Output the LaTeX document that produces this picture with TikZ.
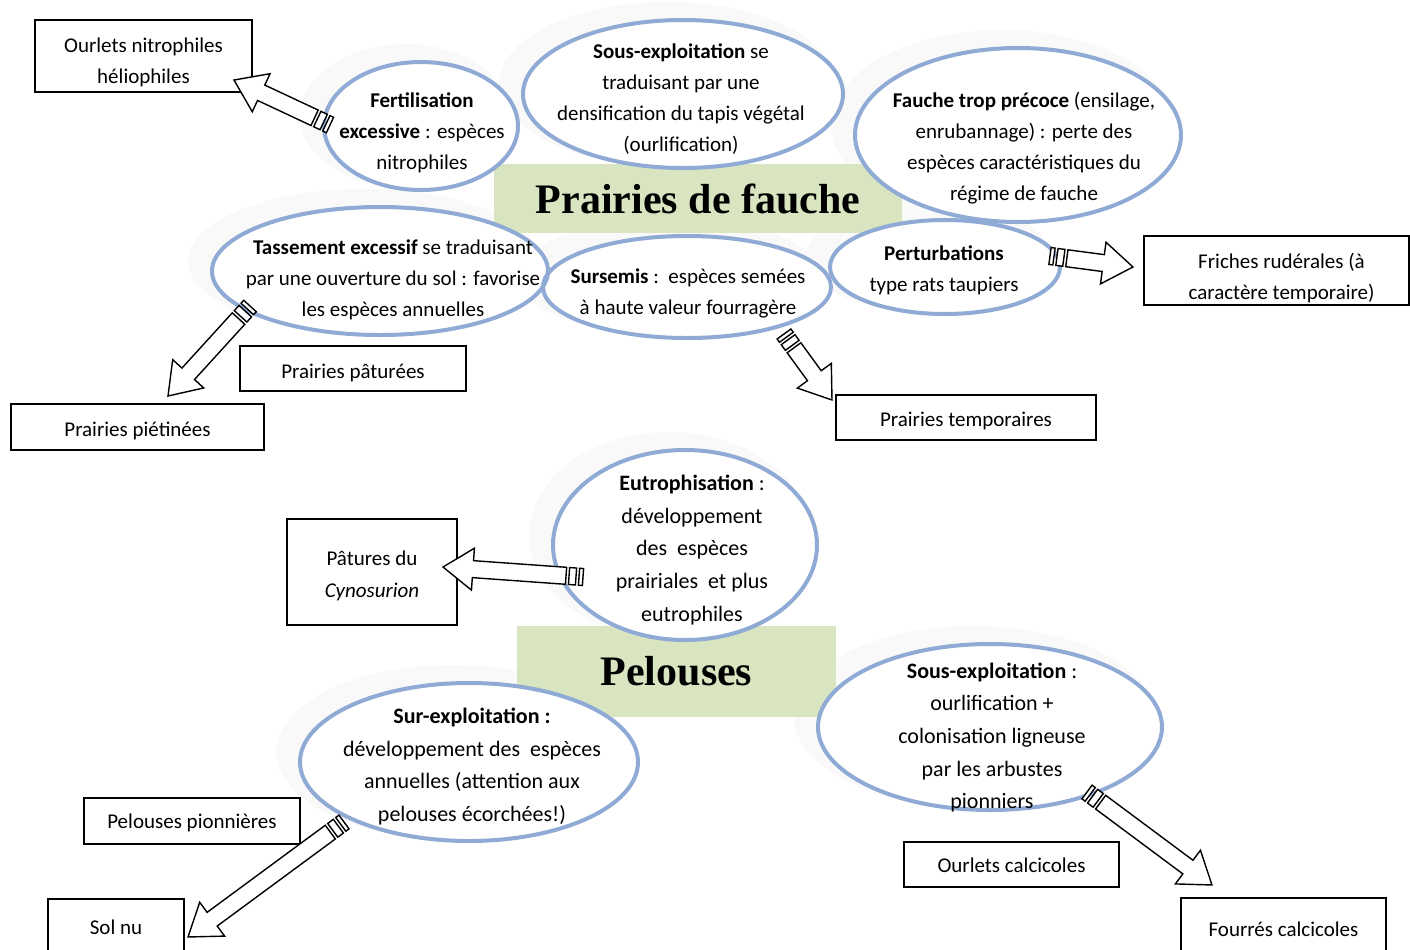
\documentclass[tikz,border=0pt]{standalone}
\usepackage{fontspec}
\setmainfont{Carlito}
\newfontfamily\titlefont{Liberation Serif}
\usetikzlibrary{calc,shapes.geometric}

\definecolor{bubbleblue}{RGB}{143,170,213}
\definecolor{titlegreen}{RGB}{217,229,193}
\definecolor{shadowgray}{RGB}{249,249,249}

\tikzset{
	box/.style={draw, line width=0.8pt, inner sep=0pt},
	boxtext/.style={align=center, inner sep=0pt, font=\fontsize{10.5}{15.5}\selectfont},
	bubble/.style={ellipse, draw=bubbleblue, line width=2pt, inner sep=0pt},
	bubbletext/.style={align=center, inner sep=0pt, font=\fontsize{10.5}{15.5}\selectfont},
	bubbletextb/.style={align=center, inner sep=0pt, font=\fontsize{11}{16.3}\selectfont},
	titlebox/.style={fill=titlegreen, inner sep=0pt, font=\titlefont\bfseries\fontsize{21}{25}\selectfont},
	arrowline/.style={draw=black, fill=white, line width=0.7pt, line join=miter},
}

% striped block arrow from #1 (tail) to #2 (tip)
\newcommand\stripearrow[2]{%
	\path let \p1=($(#2)-(#1)$) in
		\pgfextra{\pgfmathsetmacro\arrang{atan2(\y1,\x1)}\pgfmathsetmacro\arrlen{veclen(\x1,\y1)}%
			\global\let\arrang\arrang\global\let\arrlen\arrlen};
	\begin{scope}[shift={(#1)},rotate=\arrang]
		\draw[arrowline] (0pt,-4.25pt) rectangle (2pt,4.25pt);
		\draw[arrowline] (3.5pt,-4.25pt) rectangle (7pt,4.25pt);
		\draw[arrowline] (8.5pt,-4.25pt) -- ({\arrlen pt-15pt},-4.25pt) -- ({\arrlen pt-15pt},-10.5pt) -- (\arrlen pt,0pt) -- ({\arrlen pt-15pt},10.5pt) -- ({\arrlen pt-15pt},4.25pt) -- (8.5pt,4.25pt) -- cycle;
	\end{scope}}

\begin{document}
\begin{tikzpicture}[x=0.5pt,y=-0.5pt]
	\useasboundingbox (0,0) rectangle (1410,949);

	%Shape: Ellipse shadows
	\foreach \nm/\cx/\cy/\rx/\ry in {fert/421/126/97/64, sousexp/683/94/160/74, fauche/1018/135/163/87, tass/380/271/168/64, sursemis/687/287/144/51, perturb/945/267/115/47, eutro/685/545/132/95, surexp/469/762/169/79, sousexpb/990/727/172/83}
		\fill[shadowgray] (\cx-16,\cy-10) ellipse [x radius={\rx*0.5pt+4pt}, y radius={\ry*0.5pt+4pt}];

	%Shape: Rectangle (titles)
	\node[titlebox, minimum width=204pt, minimum height=34.5pt] (fauchetitle) at (698,198.5) {Prairies de fauche};
	\node[titlebox, minimum width=159.5pt, minimum height=45.5pt] (pelousestitle) at (676.5,671.5) {Pelouses};

	%Shape: Ellipse
	\foreach \nm/\cx/\cy/\rx/\ry in {fert/421/126/97/64, sousexp/683/94/160/74, fauche/1018/135/163/87, tass/380/271/168/64, sursemis/687/287/144/51, perturb/945/267/115/47, eutro/685/545/132/95, surexp/469/762/169/79, sousexpb/990/727/172/83}
		\fill[white] (\cx,\cy) ellipse [x radius={\rx*0.5pt}, y radius={\ry*0.5pt}];
	\foreach \nm/\cx/\cy/\rx/\ry in {fert/421/126/97/64, sousexp/683/94/160/74, fauche/1018/135/163/87, tass/380/271/168/64, sursemis/687/287/144/51, perturb/945/267/115/47, eutro/685/545/132/95, surexp/469/762/169/79, sousexpb/990/727/172/83}
		\node[bubble, minimum width={\rx*1pt}, minimum height={\ry*1pt}] (\nm) at (\cx,\cy) {};

	% Text Node
	\node[bubbletext] (ferttxt) at (422,133) {\textbf{Fertilisation}\\\textbf{excessive} : espèces\\nitrophiles};
	% Text Node
	\node[bubbletext] (sousexptxt) at (681,99.5) {\textbf{Sous-exploitation} se\\traduisant par une\\densification du tapis végétal\\(ourlification)};
	% Text Node
	\node[bubbletext] (fauchetxt) at (1024,148) {\textbf{Fauche trop précoce} (ensilage,\\enrubannage) : perte des\\espèces caractéristiques du\\régime de fauche};
	% Text Node
	\node[bubbletext] (tasstxt) at (393,280) {\textbf{Tassement excessif} se traduisant\\par une ouverture du sol : favorise\\les espèces annuelles};
	% Text Node
	\node[bubbletext] (sursemistxt) at (688,293.5) {\textbf{Sursemis} :\ \ espèces semées\\à haute valeur fourragère};
	% Text Node
	\node[bubbletext] (perturbtxt) at (944,270.5) {\textbf{Perturbations}\\type rats taupiers};
	% Text Node
	\node[bubbletextb] (eutrotxt) at (692,550) {\textbf{Eutrophisation} :\\développement\\des\ \ espèces\\prairiales\ \ et plus\\eutrophiles};
	% Text Node
	\node[bubbletextb] (surexptxt) at (472,766.5) {\textbf{Sur-exploitation :}\\développement des\ \ espèces\\annuelles (attention aux\\pelouses écorchées!)};
	% Text Node
	\node[bubbletextb] (sousexpbtxt) at (992,737.5) {\textbf{Sous-exploitation} :\\ourlification +\\colonisation ligneuse\\par les arbustes\\pionniers};

	%Shape: Rectangle
	\node[box, minimum width=108.5pt, minimum height=36pt, label={[boxtext, yshift=-3pt]center:{Ourlets nitrophiles\\héliophiles}}] (ourlets) at (143.5,56) {};
	\node[box, minimum width=132.5pt, minimum height=34.5pt, label={[boxtext, xshift=2.5pt, yshift=-4pt]center:{Friches rudérales (à\\caractère temporaire)}}] (friches) at (1276.5,270.5) {};
	\node[box, minimum width=113pt, minimum height=22.5pt, label={[boxtext, yshift=-2pt]center:{Prairies pâturées}}] (paturees) at (353,368.5) {};
	\node[box, minimum width=126.5pt, minimum height=23pt, label={[boxtext, yshift=-2pt]center:{Prairies piétinées}}] (pietinees) at (137.5,427) {};
	\node[box, minimum width=130pt, minimum height=22.5pt, label={[boxtext, yshift=-1.5pt]center:{Prairies temporaires}}] (temporaires) at (966,417.5) {};
	\node[box, minimum width=85pt, minimum height=53pt, label={[boxtext, font=\fontsize{10.5}{16}\selectfont, yshift=-2pt]center:{Pâtures du\\\textit{Cynosurion}}}] (cynosurion) at (372,572) {};
	\node[box, minimum width=108pt, minimum height=23pt, label={[boxtext, yshift=-1pt]center:{Pelouses pionnières}}] (pionnieres) at (192,821) {};
	\node[box, minimum width=68pt, minimum height=30.5pt, label={[boxtext, yshift=1pt]center:{Sol nu}}] (solnu) at (116,929.5) {};
	\node[box, minimum width=107.5pt, minimum height=22.5pt, label={[boxtext, yshift=-0.5pt]center:{Ourlets calcicoles}}] (calcicoles) at (1011.5,864.5) {};
	\node[box, minimum width=102.5pt, minimum height=31pt, label={[boxtext]center:{Fourrés calcicoles}}] (fourres) at (1283.5,929) {};

	%Straight Lines (arrow ends)
	\coordinate (fertout) at (330,125);
	\coordinate (ourletsin) at (234,80);
	\coordinate (perturbout) at (1050,256);
	\coordinate (frichesin) at (1133,267);
	\coordinate (sursemisout) at (784,334);
	\coordinate (temporairesin) at (832,400);
	\coordinate (tassout) at (250,306);
	\coordinate (pietineesin) at (168,396);
	\coordinate (eutroout) at (583,577);
	\coordinate (cynosurionin) at (443,567);
	\coordinate (surexpout) at (344,822);
	\coordinate (solnuin) at (188,937);
	\coordinate (sousexpbout) at (1087,792);
	\coordinate (fourresin) at (1212,885);

	\stripearrow{fertout}{ourletsin}
	\stripearrow{perturbout}{frichesin}
	\stripearrow{sursemisout}{temporairesin}
	\stripearrow{tassout}{pietineesin}
	\stripearrow{eutroout}{cynosurionin}
	\stripearrow{surexpout}{solnuin}
	\stripearrow{sousexpbout}{fourresin}

\end{tikzpicture}
\end{document}
